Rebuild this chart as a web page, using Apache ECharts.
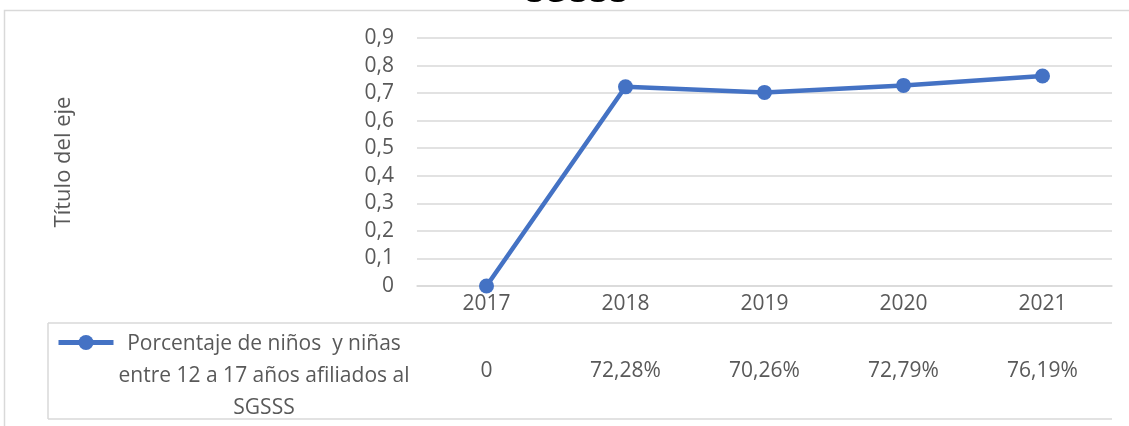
<!DOCTYPE html>
<html>
<head>
    <meta charset="utf-8">
    <title>SGSSS</title>
    <script src="https://cdn.jsdelivr.net/npm/echarts@6/dist/echarts.min.js"></script>
</head>
<body style="margin:0;background:#fff;">
    <div id="main" style="width:1129px;height:426px;"></div>
    <script type="text/javascript">
        // data
        var years = ['2017', '2018', '2019', '2020', '2021'];
        var porcentaje = [0, 0.7228, 0.7026, 0.7279, 0.7619];
        var serieNombre = 'Porcentaje de niños  y niñas\nentre 12 a 17 años afiliados al\nSGSSS';
        var tituloGrafico = 'SGSSS';
        var tituloEje = 'Título del eje';

        var gris = '#d9d9d9';
        var texto = '#595959';
        var fuente = 'Open Sans';

        // etiquetas de la tabla de datos
        var fmtValor = function (v) {
            if (v === 0) return '0';
            return (v * 100).toFixed(2).replace('.', ',') + '%';
        };
        var valoresTabla = porcentaje.map(fmtValor);

        var chart = echarts.init(document.getElementById('main'));
        chart.setOption({
            backgroundColor: '#fff',
            animation: false,
            grid: { left: 417, right: 17, top: 38, bottom: 140 },
            legend: {
                left: 56, top: 333,
                padding: 0,
                itemWidth: 55, itemHeight: 19,
                formatter: function () { return ''; },
                itemGap: 0,
                lineStyle: { width: 5 },
                data: ['serie']
            },
            xAxis: [
                {
                    type: 'category',
                    data: years,
                    boundaryGap: true,
                    axisLine: { lineStyle: { color: gris, width: 1.5 } },
                    axisTick: { interval: 0, length: 133, lineStyle: { color: gris, width: 1.5 } },
                    axisLabel: { color: texto, fontFamily: fuente, fontSize: 21, margin: 8 }
                },
                {
                    type: 'category',
                    data: valoresTabla,
                    position: 'bottom',
                    boundaryGap: true,
                    axisLine: { show: false },
                    axisTick: { show: false },
                    axisLabel: { color: texto, fontFamily: fuente, fontSize: 21, margin: 75 }
                }
            ],
            yAxis: {
                type: 'value',
                min: 0, max: 0.9, interval: 0.1,
                name: tituloEje,
                nameLocation: 'middle',
                nameGap: 342,
                nameTextStyle: { color: texto, fontFamily: fuente, fontSize: 22 },
                axisLine: { show: false },
                axisTick: { show: false },
                splitLine: { lineStyle: { color: gris, width: 1.5 } },
                axisLabel: {
                    color: texto, fontFamily: fuente, fontSize: 21, margin: 23,
                    formatter: function (v) { return String(Math.round(v * 10) / 10).replace('.', ','); }
                }
            },
            series: [{
                name: 'serie',
                type: 'line',
                data: porcentaje,
                symbol: 'circle',
                symbolSize: 15,
                lineStyle: { color: '#4472C4', width: 4.5 },
                itemStyle: { color: '#4472C4' },
                clip: false
            }],
            graphic: [
                { type: 'rect', shape: { x: 4.5, y: 10.5, width: 1200, height: 600 }, style: { fill: null, stroke: gris, lineWidth: 1.5 }, silent: true },
                { type: 'text', x: 576, y: 8.5, style: { text: tituloGrafico, fill: '#000', font: 'bold 30px "Liberation Sans"', align: 'center', verticalAlign: 'bottom' } },
                { type: 'line', shape: { x1: 48, y1: 323, x2: 1112, y2: 323 }, style: { stroke: gris, lineWidth: 1.5 } },
                { type: 'line', shape: { x1: 48, y1: 419, x2: 1112, y2: 419 }, style: { stroke: gris, lineWidth: 1.5 } },
                { type: 'line', shape: { x1: 48, y1: 323, x2: 48, y2: 419 }, style: { stroke: gris, lineWidth: 1.5 } },
                { type: 'text', x: 264, y: 328, style: { text: serieNombre, fill: texto, font: '21px "Open Sans"', align: 'center', lineHeight: 32 } }
            ]
        });
    </script>
</body>
</html>
